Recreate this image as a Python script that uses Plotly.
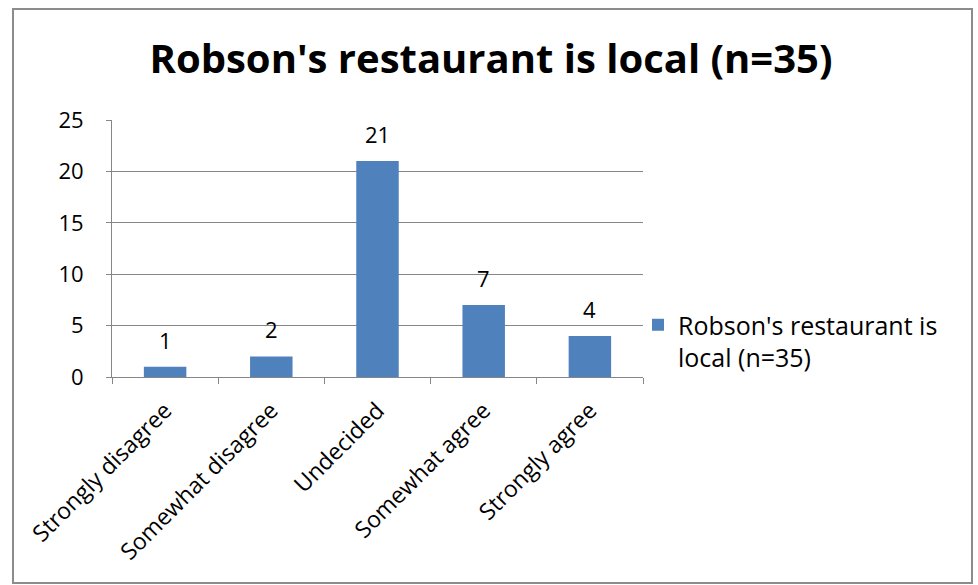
import plotly.graph_objects as go

# survey answers
categories = ["Strongly disagree", "Somewhat disagree", "Undecided", "Somewhat agree", "Strongly agree"]
counts = [1, 2, 21, 7, 4]
series_name = "Robson's restaurant is<br>local (n=35)"
title_text = "Robson's restaurant is local (n=35)"

FONT = "'Open Sans', sans-serif"
GRID = "#868686"

W, H = 978, 585
L, R, T, B = 112, 643, 120, 377  # plot area in pixels
pw, ph = R - L, B - T

fig = go.Figure()
fig.add_trace(go.Bar(
    x=categories, y=counts, name=series_name,
    marker=dict(color="#4F81BD", line=dict(width=0)),
    cliponaxis=False,
))

# value labels above the bars
for c, v in zip(categories, counts):
    fig.add_annotation(x=c, y=v, text=str(v), showarrow=False,
                       yanchor="bottom", yshift=10,
                       font=dict(size=22, color="black", family=FONT))

fig.update_layout(
    width=W, height=H,
    margin=dict(l=L, r=W - R, t=T, b=H - B, autoexpand=False),
    paper_bgcolor="white", plot_bgcolor="white",
    bargap=0.6,
    showlegend=True,
    title=dict(text="<b>" + title_text + "</b>", x=491 / W, xanchor="center",
               y=1 - 59 / H, yanchor="middle",
               font=dict(size=40, color="black", family=FONT)),
    legend=dict(x=(638 - L) / pw, y=(B - 302) / ph, xanchor="left", yanchor="top",
                font=dict(size=25, color="black", family=FONT),
                bgcolor="rgba(0,0,0,0)", itemwidth=30, valign="top"),
    font=dict(family=FONT, color="black"),
)

fig.update_yaxes(range=[0, 25], dtick=5, showgrid=True, gridcolor=GRID, gridwidth=1,
                 showline=True, linecolor=GRID, linewidth=1,
                 ticks="outside", ticklen=5, tickcolor=GRID, ticklabelstandoff=18,
                 tickfont=dict(size=22, color="black", family=FONT),
                 zeroline=False, fixedrange=True, automargin=False)
fig.update_xaxes(showline=True, linecolor=GRID, linewidth=1,
                 ticks="outside", ticklen=6, tickcolor=GRID, tickson="boundaries",
                 tickangle=-45, tickfont=dict(size=23, color="black", family=FONT),
                 ticklabelstandoff=10,
                 showgrid=False, fixedrange=True, automargin=False)

# chart border
fig.add_shape(type="rect", xref="paper", yref="paper",
              x0=(13 - L) / pw, x1=(972 - L) / pw,
              y0=(B - 583) / ph, y1=(B - 9) / ph,
              line=dict(color="#8c8c8c", width=2), layer="below")

fig.write_html("out.html", config={"displayModeBar": False},
               post_script="document.body.style.margin='0';")
